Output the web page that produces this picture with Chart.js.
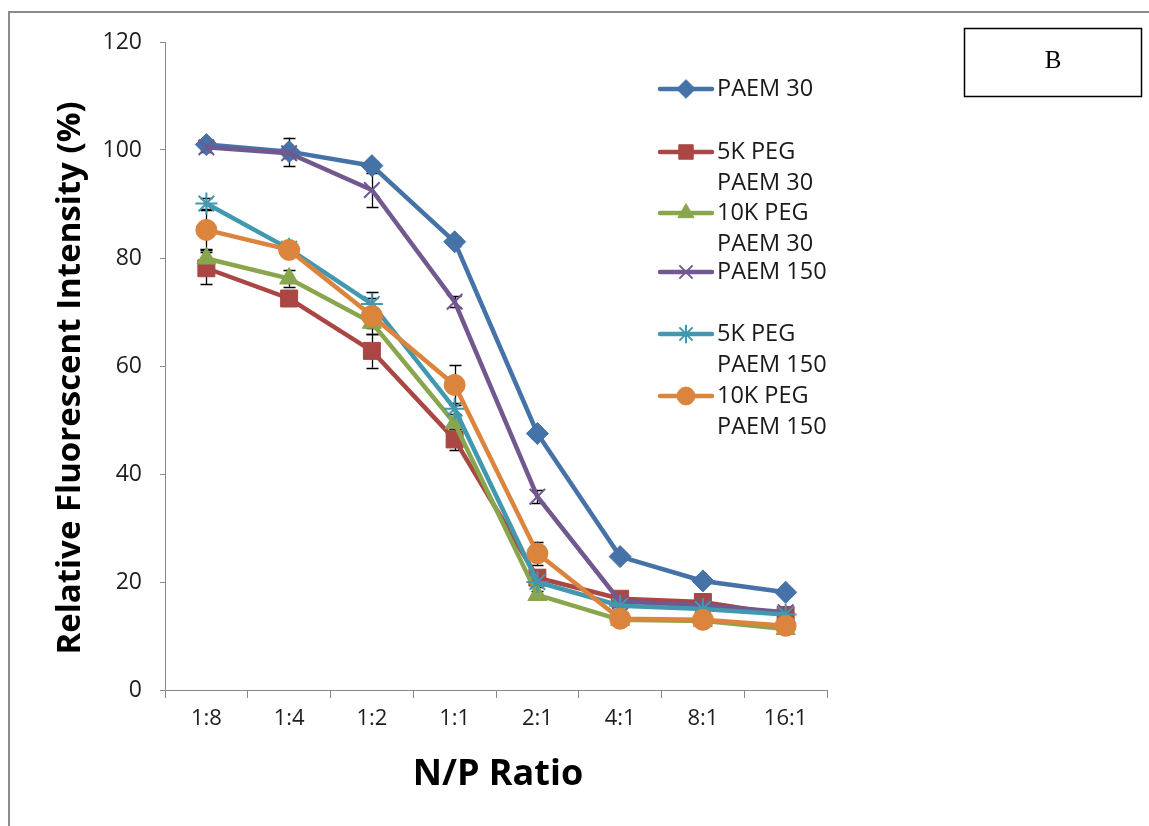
<!DOCTYPE html>
<html>
<head>
<meta charset="utf-8">
<script src="https://cdn.jsdelivr.net/npm/chart.js@4.4.1/dist/chart.umd.min.js"></script>
<style>
  html, body { margin: 0; padding: 0; background: #fff; }
  #wrap { position: relative; width: 1149px; height: 826px; }
  canvas { display: block; }
</style>
</head>
<body>
<div id="wrap"><canvas id="c" width="1149" height="826"></canvas></div>
<script>
// ---- data ----
const categories = ['1:8', '1:4', '1:2', '1:1', '2:1', '4:1', '8:1', '16:1'];
const yTicks = [0, 20, 40, 60, 80, 100, 120];

const paem30      = [101.0, 99.7, 97.1, 83.0, 47.5, 24.7, 20.2, 18.1];
const peg5k30     = [78.1, 72.5, 62.8, 46.4, 20.8, 16.9, 16.3, 13.9];
const peg10k30    = [79.9, 76.2, 68.0, 49.4, 17.6, 13.0, 12.8, 11.3];
const paem150     = [100.5, 99.4, 92.6, 71.9, 35.8, 16.4, 15.7, 14.4];
const peg5k150    = [90.1, 81.7, 71.5, 52.1, 20.0, 15.6, 15.0, 14.0];
const peg10k150   = [85.2, 81.5, 69.3, 56.5, 25.3, 13.2, 13.0, 11.9];

const err_paem30    = [0.8, 2.6, 0.9, 0.8, 0.8, 0.6, 0.6, 0.6];
const err_peg5k30   = [3.0, 1.0, 3.1, 2.0, 1.0, 0.6, 0.6, 1.5];
const err_peg10k30  = [1.8, 1.5, 1.0, 1.0, 0.8, 0.5, 0.5, 0.5];
const err_paem150   = [0.8, 0.8, 3.1, 1.0, 1.2, 0.6, 0.6, 0.6];
const err_peg5k150  = [1.1, 0.8, 2.2, 1.0, 1.0, 0.6, 0.6, 0.6];
const err_peg10k150 = [3.7, 0.8, 3.3, 3.7, 2.2, 0.5, 0.5, 0.5];

const seriesNames = [['PAEM 30'], ['5K PEG', 'PAEM 30'], ['10K PEG', 'PAEM 30'], ['PAEM 150'], ['5K PEG', 'PAEM 150'], ['10K PEG', 'PAEM 150']];
const xTitle = 'N/P Ratio';
const yTitle = 'Relative Fluorescent Intensity (%)';

const FONT = "'Open Sans', 'Liberation Sans', sans-serif";

function ds(label, data, err, color, style, radius, bw, order) {
  return {
    label: label.join(' '), data, errors: err,
    borderColor: color, backgroundColor: color,
    pointBackgroundColor: color, pointBorderColor: color,
    borderWidth: 4.5, pointStyle: style, pointRadius: radius,
    pointBorderWidth: bw, pointHoverRadius: radius, tension: 0, fill: false, order
  };
}

const datasets = [
  ds(seriesNames[0], paem30,    err_paem30,    '#4572A7', 'rectRot',  11, 1, 6),
  ds(seriesNames[1], peg5k30,   err_peg5k30,   '#AA4643', 'rect',     12, 1, 5),
  ds(seriesNames[2], peg10k30,  err_peg10k30,  '#89A54E', 'triangle', 11, 1, 4),
  ds(seriesNames[3], paem150,   err_paem150,   '#71588F', 'crossRot', 11, 2, 3),
  ds(seriesNames[4], peg5k150,  err_peg5k150,  '#4198AF', 'star',     11, 2, 2),
  ds(seriesNames[5], peg10k150, err_peg10k150, '#DB843D', 'circle',   10.5, 1, 1)
];

// error bars via the library's scales (drawn under the series)
const errorBars = {
  id: 'errorBars',
  beforeDatasetsDraw(chart) {
    const ctx = chart.ctx, ys = chart.scales.y;
    ctx.save();
    ctx.strokeStyle = '#000'; ctx.lineWidth = 1.3;
    chart.data.datasets.forEach((d, i) => {
      const meta = chart.getDatasetMeta(i);
      meta.data.forEach((pt, j) => {
        const e = d.errors[j], v = d.data[j];
        const y1 = ys.getPixelForValue(v + e), y2 = ys.getPixelForValue(v - e);
        const x = Math.round(pt.x) + 0.5;
        ctx.beginPath();
        ctx.moveTo(x, y1); ctx.lineTo(x, y2);
        ctx.moveTo(x - 6, Math.round(y1) + 0.5); ctx.lineTo(x + 6, Math.round(y1) + 0.5);
        ctx.moveTo(x - 6, Math.round(y2) + 0.5); ctx.lineTo(x + 6, Math.round(y2) + 0.5);
        ctx.stroke();
      });
    });
    ctx.restore();
  }
};

// legend, titles, frame and panel label
const decor = {
  id: 'decor',
  beforeDraw(chart) {
    const ctx = chart.ctx;
    ctx.save();
    ctx.fillStyle = '#fff';
    ctx.fillRect(0, 0, chart.width, chart.height);
    ctx.strokeStyle = '#8c8c8c'; ctx.lineWidth = 2;
    ctx.beginPath();
    ctx.moveTo(9, 830); ctx.lineTo(9, 12); ctx.lineTo(1160, 12);
    ctx.stroke();
    ctx.restore();
  },
  afterDraw(chart) {
    const ctx = chart.ctx;
    const ca = chart.chartArea;
    ctx.save();
    // axis titles
    ctx.fillStyle = '#000';
    ctx.textAlign = 'center'; ctx.textBaseline = 'middle';
    ctx.font = 'bold 36px ' + FONT;
    ctx.fillText(xTitle, (ca.left + ca.right) / 2 + 2, 775);
    ctx.save();
    ctx.translate(71, 378);
    ctx.rotate(-Math.PI / 2);
    ctx.font = 'bold 33px ' + FONT;
    ctx.fillText(yTitle, 0, 0);
    ctx.restore();
    // panel label box
    ctx.strokeStyle = '#000'; ctx.lineWidth = 1.5;
    ctx.strokeRect(964.5, 28.5, 177, 68);
    ctx.fillStyle = '#000';
    ctx.font = "25px 'Liberation Serif', 'DejaVu Serif', serif";
    ctx.fillText('B', 1053, 61);
    // legend
    const ys = [89, 152, 213, 272, 334, 396];
    const H = Chart.helpers;
    chart.data.datasets.forEach((d, i) => {
      const y = ys[i];
      ctx.strokeStyle = d.borderColor; ctx.lineWidth = 4.5; ctx.lineCap = 'round';
      ctx.beginPath(); ctx.moveTo(660, y); ctx.lineTo(712, y); ctx.stroke();
      ctx.lineCap = 'butt';
      ctx.fillStyle = d.backgroundColor; ctx.strokeStyle = d.borderColor;
      ctx.lineWidth = d.pointBorderWidth;
      if (H && H.drawPoint) {
        H.drawPoint(ctx, { pointStyle: d.pointStyle, radius: d.pointRadius * 0.85, borderWidth: d.pointBorderWidth, rotation: 0 }, 686, y);
      }
      ctx.fillStyle = '#1a1a1a';
      ctx.font = '23.5px ' + FONT;
      ctx.textAlign = 'left'; ctx.textBaseline = 'middle';
      seriesNames[i].forEach((t, k) => ctx.fillText(t, 717, y + k * 31));
    });
    ctx.restore();
  }
};

new Chart(document.getElementById('c'), {
  type: 'line',
  data: { labels: categories, datasets },
  options: {
    responsive: false,
    animation: false,
    devicePixelRatio: 1,
    layout: { padding: { top: 42, right: 322, bottom: 0, left: 0 } },
    plugins: { legend: { display: false }, tooltip: { enabled: false } },
    scales: {
      x: {
        type: 'category',
        offset: true,
        grid: { display: true, drawOnChartArea: false, drawTicks: true, tickLength: 8, offset: true, color: '#888', lineWidth: 1 },
        border: { display: true, color: '#888', width: 1 },
        ticks: { color: '#1e1e1e', font: { family: FONT, size: 22 }, padding: 8, maxRotation: 0 },
        afterFit(s) { s.height = 136; }
      },
      y: {
        min: 0, max: 120,
        afterBuildTicks(s) { s.ticks = yTicks.map(v => ({ value: v })); },
        grid: { display: true, drawOnChartArea: false, drawTicks: true, tickLength: 5, color: '#888', lineWidth: 1 },
        border: { display: true, color: '#888', width: 1 },
        ticks: { color: '#1e1e1e', font: { family: FONT, size: 23 }, padding: 18 },
        afterFit(s) { s.width = 165; }
      }
    }
  },
  plugins: [decor, errorBars]
});
</script>
</body>
</html>
